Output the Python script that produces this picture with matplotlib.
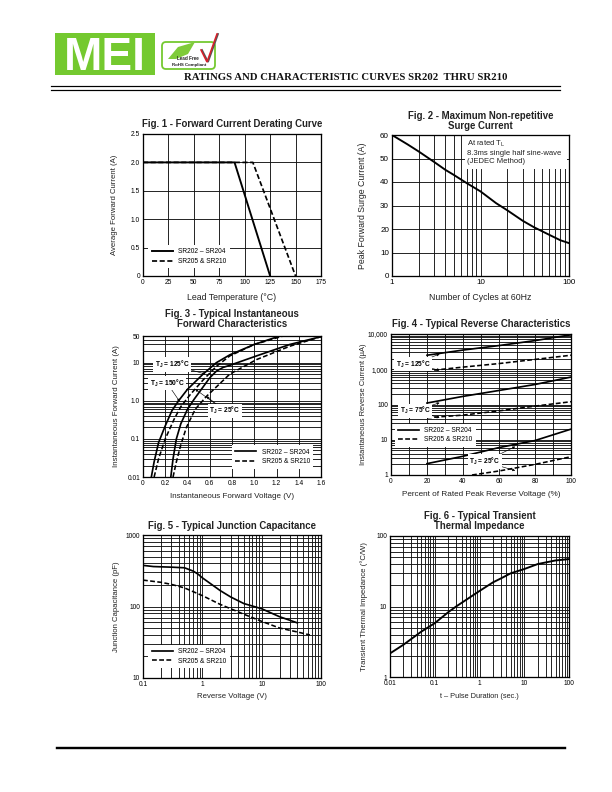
import numpy as np
import matplotlib
matplotlib.use('Agg')
import matplotlib.pyplot as plt
from matplotlib.patches import Rectangle, FancyBboxPatch, Polygon

plt.rcParams['font.family'] = ['Liberation Sans', 'DejaVu Sans']
plt.rcParams['mathtext.default'] = 'regular'

# Fig. 1
f1_temp_a = [0, 90, 125]
f1_curr_a = [2.0, 2.0, 0]
f1_temp_b = [0, 108, 150]
f1_curr_b = [2.0, 2.0, 0]

# Fig. 2
f2_cycles = [1, 1.5, 2, 3, 4, 5, 7, 10, 15, 20, 30, 40, 60, 80, 100]
f2_surge = [60, 56, 53, 48.5, 45.2, 43, 39.5, 36, 31, 28, 23.5, 20.8, 17.5, 15.2, 14]

# Fig. 3
f3_v_125a = [0.075, 0.10, 0.14, 0.20, 0.26, 0.32, 0.40, 0.54, 0.66, 0.78, 1.00, 1.23]
f3_i_125a = [0.01, 0.025, 0.08, 0.22, 0.55, 1.0, 2.0, 5.0, 10, 16, 30, 50]
f3_v_125b = [0.10, 0.14, 0.20, 0.28, 0.34, 0.42, 0.54, 0.66, 0.78, 1.00, 1.26]
f3_i_125b = [0.01, 0.03, 0.10, 0.33, 0.70, 1.4, 3.5, 8.0, 15, 30, 50]
f3_v_25a = [0.25, 0.27, 0.30, 0.34, 0.40, 0.46, 0.60, 0.66, 0.72, 0.78, 1.02, 1.32, 1.60]
f3_i_25a = [0.01, 0.03, 0.10, 0.25, 0.60, 1.1, 4.0, 6.0, 7.5, 8.5, 15, 30, 48]
f3_v_25b = [0.27, 0.30, 0.34, 0.39, 0.47, 0.57, 0.78, 1.02, 1.32, 1.60]
f3_i_25b = [0.01, 0.025, 0.07, 0.20, 0.60, 1.3, 5.0, 12, 27, 48]

# Fig. 4
f4_pct = [20, 40, 60, 80, 100]
f4_125a = [2500, 3500, 4700, 6500, 9500]
f4_125b = [900, 1150, 1450, 1900, 2500]
f4_75a = [110, 170, 250, 370, 600]
f4_75b = [42, 50, 66, 90, 120]
f4_25a = [2.1, 3.4, 6, 9.5, 20]
f4_pct_low = [45, 60, 80, 100]
f4_25b = [1.0, 1.3, 2.0, 3.3]

# Fig. 5
f5_v_a = [0.1, 0.15, 0.3, 0.5, 0.7, 0.85, 1, 2, 3, 5, 10, 20, 40]
f5_c_a = [376, 362, 355, 348, 313, 283, 252, 167, 136, 110, 93, 72, 59]
f5_v_b = [0.1, 0.2, 0.3, 0.5, 1, 2, 5, 10, 20, 40, 65]
f5_c_b = [234, 218, 204, 182, 142, 107, 78, 62, 50, 44, 40]

# Fig. 6
f6_t = [0.01, 0.02, 0.05, 0.1, 0.2, 0.3, 0.5, 1, 2, 3, 5, 10, 20, 50, 100]
f6_z = [2.16, 2.87, 4.4, 5.8, 8.3, 10, 12.4, 16.6, 22, 25, 29.6, 34, 40, 45, 47]

LABEL_A = 'SR202 – SR204'
LABEL_B = 'SR205 & SR210'
DASH = (0, (3, 1.5))
W, H = 612, 792


def decades(lo, hi):
    vals = []
    d = lo
    while d < hi:
        vals += [d * k for k in range(1, 10)]
        d *= 10
    return [v for v in vals if v <= hi]


def make_axes(fig, box, title, title_y, xlabel, xlab, ylabel, ylab, tick_size=6.6):
    # box is left, top, right, bottom in pixels of the page
    # xlab and ylab are (page pixel, font size) for the axis titles
    l, t, r, b = box
    ax = fig.add_axes([l / W, 1 - b / H, (r - l) / W, (b - t) / H])
    for s in ax.spines.values():
        s.set_linewidth(1.3)
        s.set_zorder(8)
    ax.tick_params(which='both', length=0, labelsize=tick_size, pad=3)
    ax.set_xlabel(xlabel, fontsize=xlab[1], color='#222222', va='center')
    ax.set_ylabel(ylabel, fontsize=ylab[1], color='#222222', va='center')
    ax.xaxis.set_label_coords(0.5, -(xlab[0] - b) / (b - t))
    ax.yaxis.set_label_coords((ylab[0] - l) / (r - l), 0.5)
    fig.text((l + r) / 2 / W, 1 - title_y / H, title, ha='center', va='bottom',
             fontsize=9.6, fontweight='bold', color='#222222', linespacing=0.95)
    return ax


def add_grid(ax, xs, ys):
    for x in xs:
        ax.axvline(x, color='#111111', lw=0.9, zorder=1)
    for y in ys:
        ax.axhline(y, color='#111111', lw=0.9, zorder=1)


def add_legend(ax, anchor):
    ax.legend(loc='lower left', bbox_to_anchor=anchor, fontsize=6.6, frameon=True,
              facecolor='white', edgecolor='none', framealpha=1, fancybox=False,
              handlelength=3.2, labelspacing=0.4, borderpad=0.5, handletextpad=0.8,
              borderaxespad=0)


def note(ax, text, xytext, targets):
    for xy in targets:
        ax.annotate('', xy=xy, xytext=xytext, xycoords='data', textcoords='data',
                    arrowprops=dict(arrowstyle='-|>', color='black', lw=0.6,
                                    mutation_scale=5, shrinkA=0, shrinkB=0), zorder=6)
    ax.text(xytext[0], xytext[1], text, fontsize=6.6, fontweight='bold', ha='center', va='center',
            bbox=dict(facecolor='white', edgecolor='none', pad=1.5), zorder=7)


fig = plt.figure(figsize=(W / 72, H / 72), dpi=72)

# page furniture
page = fig.add_axes([0, 0, 1, 1])
page.set_xlim(0, W)
page.set_ylim(H, 0)
page.axis('off')
page.add_patch(Rectangle((55, 33), 100, 42, facecolor='#74C92F', edgecolor='none'))
page.text(105, 53.5, 'MEI', color='white', fontsize=46, fontweight='bold', ha='center', va='center_baseline')
page.add_patch(FancyBboxPatch((162, 42), 53, 27, boxstyle='round,pad=0,rounding_size=4',
                              facecolor='white', edgecolor='#74C92F', linewidth=1.8))
page.add_patch(Polygon([[168, 59], [178, 47], [195, 42], [188, 54], [176, 59]], facecolor='#7FCB3A', edgecolor='none'))
page.plot([202, 208, 218], [50, 62, 34], color='#555555', lw=1.8, solid_joinstyle='miter')
page.plot([201, 207, 217], [50, 62, 34], color='#D8202A', lw=1.6, solid_joinstyle='miter')
page.text(188, 59, 'Lead Free', fontsize=4.6, fontweight='bold', ha='center', va='center', color='#222222')
page.text(189, 65, 'RoHS Compliant', fontsize=4.4, fontweight='bold', ha='center', va='center', color='#222222')
page.text(184, 78, 'RATINGS AND CHARACTERISTIC CURVES SR202  THRU SR210', fontsize=10.8,
          family='Liberation Serif', fontweight='bold', ha='left', va='center', color='#111111')
page.plot([51, 560], [86.3, 86.3], color='black', lw=1.2)
page.plot([51, 560], [90.4, 90.4], color='black', lw=1.2)
page.plot([57, 565], [748, 748], color='black', lw=2.4)

# Fig. 1
ax = make_axes(fig, (143, 134, 321, 276), 'Fig. 1 - Forward Current Derating Curve', 129,
               'Lead Temperature (°C)', (297, 8.7), 'Average Forward Current (A)', (115, 7.8))
add_grid(ax, np.arange(25, 175, 25), np.arange(0.5, 2.5, 0.5))
ax.plot(f1_temp_a, f1_curr_a, color='black', lw=1.9, label=LABEL_A, zorder=4)
ax.plot(f1_temp_b, f1_curr_b, color='black', lw=1.7, ls=DASH, label=LABEL_B, zorder=3)
ax.set_xlim(0, 175)
ax.set_ylim(0, 2.5)
ax.set_xticks(np.arange(0, 176, 25), ['0', '25', '50', '75', '100', '125', '150', '175'])
ax.set_yticks([0, 0.5, 1.0, 1.5, 2.0, 2.5], ['0', '0.5', '1.0', '1.5', '2.0', '2.5'])
add_legend(ax, (0.03, 0.054))

# Fig. 2
ax = make_axes(fig, (392, 135, 569, 276), 'Fig. 2 - Maximum Non-repetitive\nSurge Current', 131,
               'Number of Cycles at 60Hz', (297, 8.7), 'Peak Forward Surge Current (A)', (363, 8.7), tick_size=8)
add_grid(ax, decades(1, 100), np.arange(10, 60, 10))
ax.add_patch(Rectangle((0.41, 0.76), 0.58, 0.23, transform=ax.transAxes, facecolor='white',
                       edgecolor='none', zorder=2))
ax.plot(f2_cycles, f2_surge, color='black', lw=1.9, zorder=4)
ax.set_xscale('log')
ax.set_xlim(1, 100)
ax.set_ylim(0, 60)
ax.set_xticks([1, 10, 100], ['1', '10', '100'])
ax.set_xticks([], minor=True)
ax.set_yticks(np.arange(0, 61, 10))
ax.text(0.425, 0.97, 'At rated T$_L$\n8.3ms single half sine-wave\n(JEDEC Method)', transform=ax.transAxes,
        fontsize=7.6, va='top', ha='left', color='#222222', linespacing=1.15, zorder=3)

# Fig. 3
ax = make_axes(fig, (143, 336, 321, 477), 'Fig. 3 - Typical Instantaneous\nForward Characteristics', 329,
               'Instantaneous Forward Voltage (V)', (496, 8.0), 'Instantaneous Forward Current (A)', (117, 7.9))
add_grid(ax, np.arange(0.2, 1.6, 0.2), decades(0.01, 50))
ax.plot(f3_v_125a, f3_i_125a, color='black', lw=1.7, label=LABEL_A, zorder=4)
ax.plot(f3_v_125b, f3_i_125b, color='black', lw=1.6, ls=DASH, label=LABEL_B, zorder=4)
ax.plot(f3_v_25a, f3_i_25a, color='black', lw=1.7, zorder=4)
ax.plot(f3_v_25b, f3_i_25b, color='black', lw=1.6, ls=DASH, zorder=4)
ax.set_yscale('log')
ax.set_xlim(0, 1.6)
ax.set_ylim(0.01, 50)
ax.set_xticks(np.arange(0, 1.61, 0.2), ['0', '0.2', '0.4', '0.6', '0.8', '1.0', '1.2', '1.4', '1.6'])
ax.set_yticks([0.01, 0.1, 1, 10, 50], ['0.01', '0.1', '1.0', '10', '50'])
ax.set_yticks([], minor=True)
add_legend(ax, (0.50, 0.06))
note(ax, 'T$_J$ = 125°C', (0.26, 9), [(0.56, 5.0)])
note(ax, 'T$_J$ = 150°C', (0.217, 2.9), [(0.33, 0.95)])
note(ax, 'T$_J$ = 25°C', (0.737, 0.55), [(0.47, 2.0), (0.57, 1.3)])

# Fig. 4
ax = make_axes(fig, (391, 334, 571, 475), 'Fig. 4 - Typical Reverse Characteristics', 329,
               'Percent of Rated Peak Reverse Voltage (%)', (495, 8.1), 'Instantaneous Reverse Current (µA)', (364, 7.5))
add_grid(ax, np.arange(10, 100, 10), decades(1, 10000))
ax.plot(f4_pct, f4_125a, color='black', lw=1.7, label=LABEL_A, zorder=4)
ax.plot(f4_pct, f4_125b, color='black', lw=1.6, ls=DASH, label=LABEL_B, zorder=4)
ax.plot(f4_pct, f4_75a, color='black', lw=1.7, zorder=4)
ax.plot(f4_pct, f4_75b, color='black', lw=1.6, ls=DASH, zorder=4)
ax.plot(f4_pct, f4_25a, color='black', lw=1.7, zorder=4)
ax.plot(f4_pct_low, f4_25b, color='black', lw=1.6, ls=DASH, zorder=4)
ax.set_yscale('log')
ax.set_xlim(0, 100)
ax.set_ylim(1, 10000)
ax.set_xticks(np.arange(0, 101, 20), ['0', '20', '40', '60', '80', '100'])
ax.set_yticks([1, 10, 100, 1000, 10000], ['1', '10', '100', '1,000', '10,000'])
ax.set_yticks([], minor=True)
add_legend(ax, (0.02, 0.2))
note(ax, 'T$_J$ = 125°C', (12.4, 1390), [(27, 2700), (27, 940)])
note(ax, 'T$_J$ = 75°C', (13.4, 67), [(27, 112), (27, 42)])
note(ax, 'T$_J$ = 25°C', (52, 2.4), [(69, 6.4), (69, 1.33)])

# Fig. 5
ax = make_axes(fig, (143, 535, 321, 678), 'Fig. 5 - Typical Junction Capacitance', 531,
               'Reverse Voltage (V)', (697, 7.8), 'Junction Capacitance (pF)', (117, 7.7))
add_grid(ax, decades(0.1, 100), decades(10, 1000))
ax.plot(f5_v_a, f5_c_a, color='black', lw=1.7, label=LABEL_A, zorder=4)
ax.plot(f5_v_b, f5_c_b, color='black', lw=1.6, ls=DASH, label=LABEL_B, zorder=4)
ax.set_xscale('log')
ax.set_yscale('log')
ax.set_xlim(0.1, 100)
ax.set_ylim(10, 1000)
ax.set_xticks([0.1, 1, 10, 100], ['0.1', '1', '10', '100'])
ax.set_xticks([], minor=True)
ax.set_yticks([10, 100, 1000], ['10', '100', '1000'])
ax.set_yticks([], minor=True)
add_legend(ax, (0.03, 0.07))

# Fig. 6
ax = make_axes(fig, (390, 536, 569, 677), 'Fig. 6 - Typical Transient\nThermal Impedance', 531,
               't – Pulse Duration (sec.)', (697, 7.4), 'Transient Thermal Impedance (°C/W)', (364, 7.8))
add_grid(ax, decades(0.01, 100), decades(1, 100))
ax.plot(f6_t, f6_z, color='black', lw=1.9, zorder=4)
ax.set_xscale('log')
ax.set_yscale('log')
ax.set_xlim(0.01, 100)
ax.set_ylim(1, 100)
ax.set_xticks([0.01, 0.1, 1, 10, 100], ['0.01', '0.1', '1', '10', '100'])
ax.set_xticks([], minor=True)
ax.set_yticks([1, 10, 100], ['1', '10', '100'])
ax.set_yticks([], minor=True)

fig.savefig('out.png', dpi=72)
